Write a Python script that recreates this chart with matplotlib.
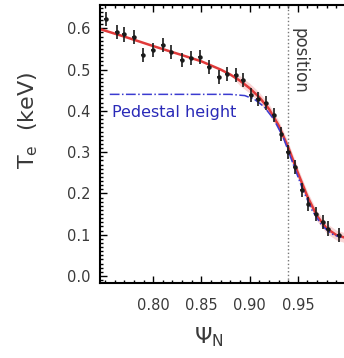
import numpy as np
import matplotlib
matplotlib.use('Agg')
import matplotlib.pyplot as plt
from matplotlib.ticker import MultipleLocator

# measured Te profile (psi_N, Te in keV)
psi = [0.751, 0.762, 0.770, 0.780, 0.789, 0.800, 0.810, 0.819, 0.830, 0.839,
       0.849, 0.858, 0.868, 0.877, 0.886, 0.893, 0.901, 0.909, 0.917, 0.925,
       0.933, 0.940, 0.947, 0.954, 0.961, 0.969, 0.976, 0.981, 0.993]
te = [0.623, 0.590, 0.585, 0.579, 0.535, 0.548, 0.559, 0.543, 0.524, 0.527,
      0.531, 0.506, 0.481, 0.489, 0.486, 0.474, 0.438, 0.428, 0.418, 0.389,
      0.345, 0.300, 0.264, 0.208, 0.175, 0.151, 0.131, 0.115, 0.099]
te_err = 0.017
psi_err = 0.002

# fitted profile (red)
fit_x = [0.745, 0.77, 0.80, 0.83, 0.85, 0.87, 0.88, 0.89, 0.90, 0.91, 0.92,
         0.93, 0.94, 0.95, 0.96, 0.97, 0.98, 0.99, 1.00]
fit_y = [0.598, 0.580, 0.557, 0.535, 0.520, 0.500, 0.488, 0.473, 0.455, 0.433,
         0.405, 0.365, 0.312, 0.250, 0.192, 0.145, 0.115, 0.099, 0.092]

# pedestal height guide (blue dash-dot)
ped_x = [0.755, 0.80, 0.85, 0.88, 0.895, 0.905, 0.915, 0.925, 0.935, 0.945,
         0.955, 0.965, 0.975, 0.985, 0.995]
ped_y = [0.440, 0.440, 0.440, 0.440, 0.437, 0.428, 0.410, 0.380, 0.335, 0.272,
         0.210, 0.158, 0.122, 0.102, 0.093]

POS_LINE = 0.940
TXT = '#3a3a3a'

plt.rcParams['font.family'] = ['DejaVu Sans']
fig = plt.figure(figsize=(3.44, 3.58), dpi=100)
ax = fig.add_axes([0.291, 0.2095, 0.715, 0.776])

fx = np.array(fit_x); fy = np.array(fit_y)
band = 0.012 * (fx > 0.88)
ax.fill_between(fx, fy - band, fy + band, color='#f6c4c4', alpha=0.7, lw=0)
ax.plot(fit_x, fit_y, color='#e03a3a', lw=1.8, zorder=2)
ax.plot(ped_x, ped_y, color='#3b3bd0', lw=1.1, ls='-.', zorder=3)
ax.errorbar(psi, te, yerr=te_err, xerr=psi_err, fmt='o', ms=2.2,
            color='#1a1a1a', ecolor='#1a1a1a', elinewidth=1.2, capsize=0, zorder=4)
ax.axvline(POS_LINE, color='#777777', ls=':', lw=1.0)

ax.text(0.757, 0.397, 'Pedestal height', color='#2a2ab8', fontsize=11.5,
        ha='left', va='center')
ax.text(POS_LINE + 0.002, 0.60, 'position', rotation=-90, fontsize=12,
        color=TXT, ha='left', va='top')

ax.set_xlim(0.745, 1.0)
ax.set_ylim(-0.017, 0.656)
ax.set_xticks([0.80, 0.85, 0.90, 0.95])
ax.set_xticklabels(['0.80', '0.85', '0.90', '0.95'])
ax.set_yticks([0.0, 0.1, 0.2, 0.3, 0.4, 0.5, 0.6])
ax.set_yticklabels(['0.0', '0.1', '0.2', '0.3', '0.4', '0.5', '0.6'])
ax.xaxis.set_minor_locator(MultipleLocator(0.01))
ax.yaxis.set_minor_locator(MultipleLocator(0.01))
ax.tick_params(which='both', direction='in', top=True, right=False,
               labelsize=10.5, labelcolor=TXT, width=1.0)
ax.tick_params(which='major', length=5)
ax.tick_params(which='minor', length=2.5)
ax.tick_params(axis='x', pad=11)
ax.tick_params(axis='y', pad=7)
for s in ax.spines.values():
    s.set_linewidth(1.5)
ax.spines['right'].set_visible(False)

ax.set_xlabel(r'$\Psi_{\rm N}$', fontsize=16, color=TXT)
ax.xaxis.set_label_coords((209 - 100) / 246, -(325 - 283) / 278)
ax.set_ylabel(r'T$_{\rm e}$  (keV)', fontsize=16, color=TXT)
ax.yaxis.set_label_coords(-(100 - 40) / 246, (283 - 120) / 278)

fig.savefig('out.png', dpi=100)
